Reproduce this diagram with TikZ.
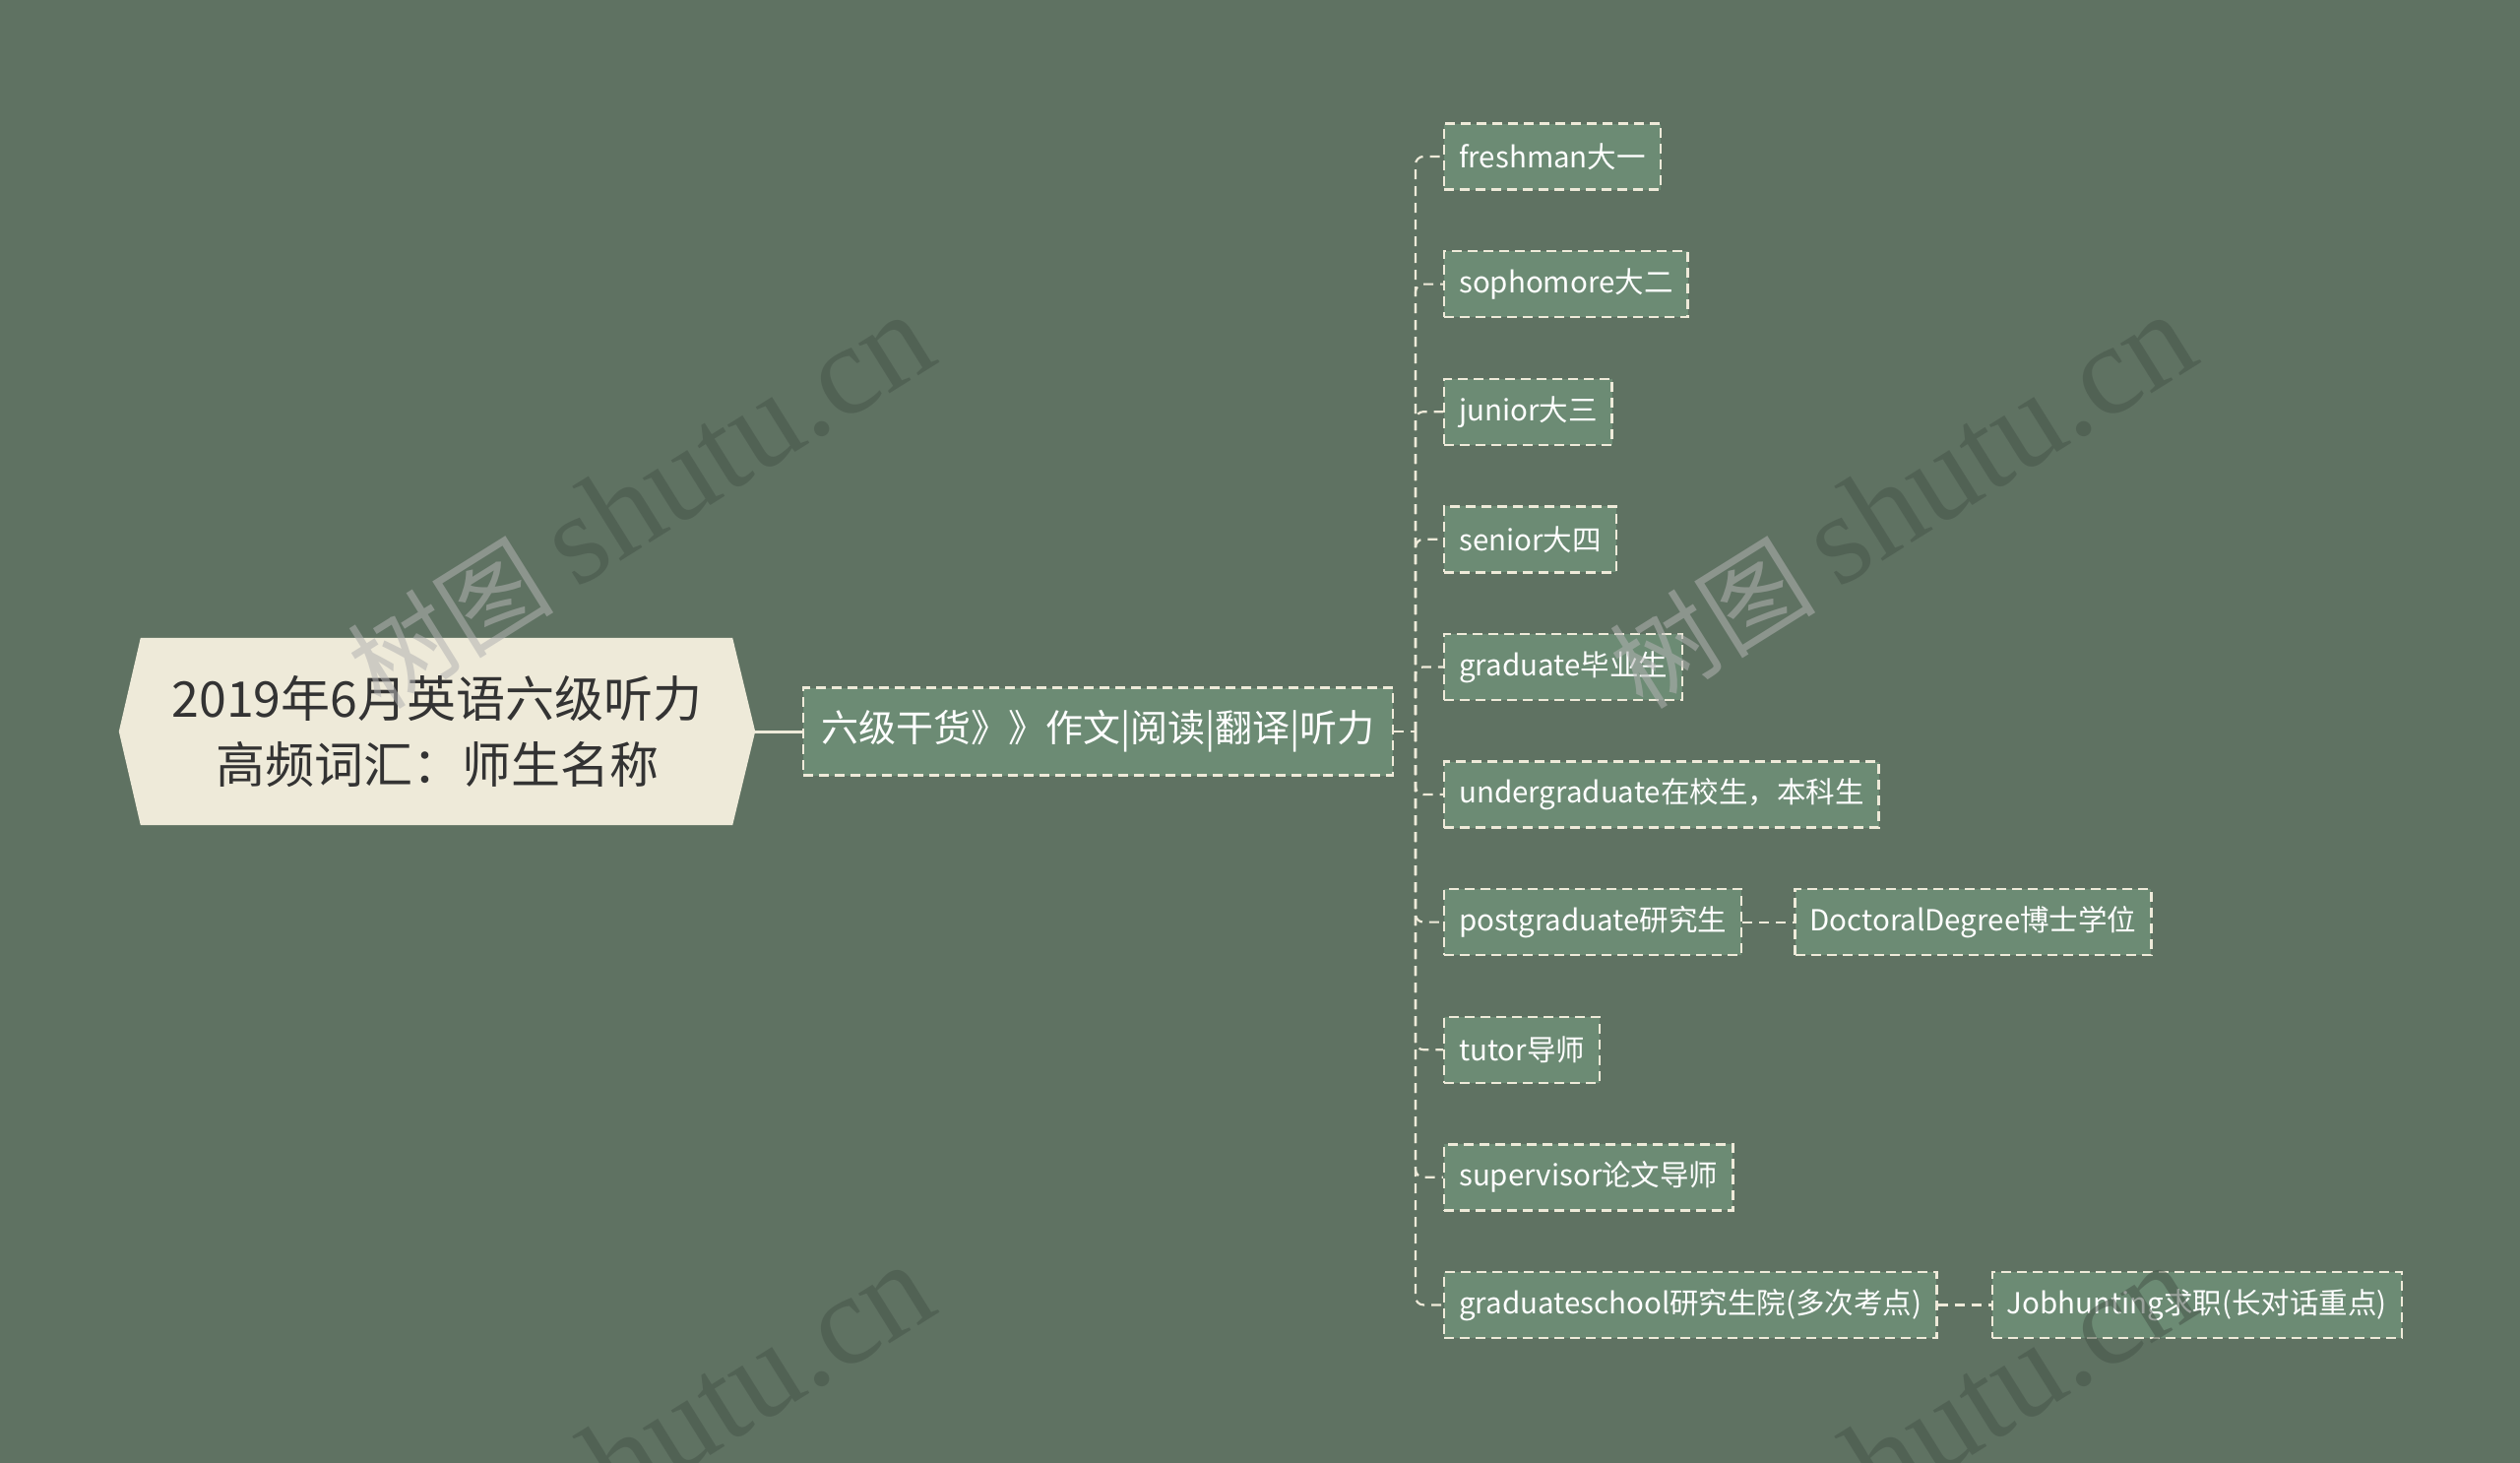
\documentclass[tikz,border=0pt]{standalone}
\usepackage{fontspec}
\setmainfont{Noto Sans CJK SC}
\newfontfamily\wmserif{Liberation Serif}
\newfontfamily\wmcjk{Noto Sans CJK SC}
\usetikzlibrary{positioning,backgrounds}
\definecolor{bgc}{HTML}{5F7262}
\definecolor{leaffill}{HTML}{6C8B74}
\definecolor{rootfill}{HTML}{EEEAD9}
\definecolor{linec}{HTML}{EEEAD9}
\definecolor{roottext}{HTML}{333333}
\definecolor{wmdark}{HTML}{47554A}
\definecolor{wmgray}{HTML}{B2B2B2}
\begin{document}
\begin{tikzpicture}[x=1pt,y=-1pt,
  leafbox/.style={draw=linec, line width=2.4pt, dash pattern=on 10pt off 6pt,
    fill=leaffill, text=white, font=\fontsize{29.5}{35}\selectfont,
    minimum height=67pt, inner xsep=15pt, inner ysep=0pt, anchor=west},
  midbox/.style={draw=linec, line width=2.4pt, dash pattern=on 10pt off 6pt,
    fill=leaffill, text=white, font=\fontsize{38}{44}\selectfont,
    minimum height=89pt, inner xsep=18pt, anchor=west},
  rootbox/.style={text=roottext, font=\fontsize{50}{67}\selectfont, align=center,
    minimum width=646pt, minimum height=190pt, inner sep=0pt},
  conn/.style={draw=linec, line width=2.2pt, dash pattern=on 10pt off 7pt},
  elbow/.style={conn, rounded corners=8pt},
  wm/.style={rotate=32, text opacity=0.55, inner sep=0pt}]
\useasboundingbox (0,0) rectangle (2560,1486);

% nodes
\node[rootbox] (root) at (444,743) {2019年6月英语六级听力\\高频词汇：师生名称};
\node[midbox] (mid) at (815,743) {六级干货》》作文|阅读|翻译|听力};
\coordinate (sp) at (1438,743);

\node[leafbox] (l1) at (1466,159) {freshman大一};
\node[leafbox] (l2) at (1466,288.6) {sophomore大二};
\node[leafbox] (l3) at (1466,418.2) {junior大三};
\node[leafbox] (l4) at (1466,547.8) {senior大四};
\node[leafbox] (l5) at (1466,677.4) {graduate毕业生};
\node[leafbox] (l6) at (1466,807) {undergraduate在校生，本科生};
\node[leafbox] (l7) at (1466,936.6) {postgraduate研究生};
\node[leafbox] (l8) at (1466,1066.2) {tutor导师};
\node[leafbox] (l9) at (1466,1195.8) {supervisor论文导师};
\node[leafbox] (l10) at (1466,1325.4) {graduateschool研究生院(多次考点)};
\node[leafbox, right=52pt of l7] (c1) {DoctoralDegree博士学位};
\node[leafbox, right=54pt of l10] (c2) {Jobhunting求职(长对话重点)};

% background and root shape
\begin{scope}[on background layer]
  \fill[bgc] (0,0) rectangle (2560,1486);
  \fill[rootfill] ([xshift=22pt]root.north west) -- ([xshift=-23pt]root.north east)
    -- (root.east) -- ([xshift=-23pt]root.south east)
    -- ([xshift=22pt]root.south west) -- (root.west) -- cycle;
  % connectors
  \draw[linec, line width=3pt] (root.east) -- (mid.west);
  \draw[conn] (mid.east) -- (sp);
  \foreach \n in {l1,l2,l3,l4,l5,l6,l7,l8,l9,l10}
    \draw[elbow] (sp) |- (\n.west);
  \draw[conn] (l7.east) -- (c1.west);
  \draw[conn] (l10.east) -- (c2.west);
\end{scope}

% watermarks
\foreach \wx/\wy [count=\i] in {650/510, 1932/510, 650/1475, 1932/1475}
  \node[wm] (wm\i) at (\wx,\wy)
    {{\wmcjk\fontsize{105}{105}\selectfont\color{wmgray}树图}\hspace{24pt}{\wmserif\fontsize{130}{130}\selectfont\color{wmdark}shutu.cn}};
\end{tikzpicture}
\end{document}
